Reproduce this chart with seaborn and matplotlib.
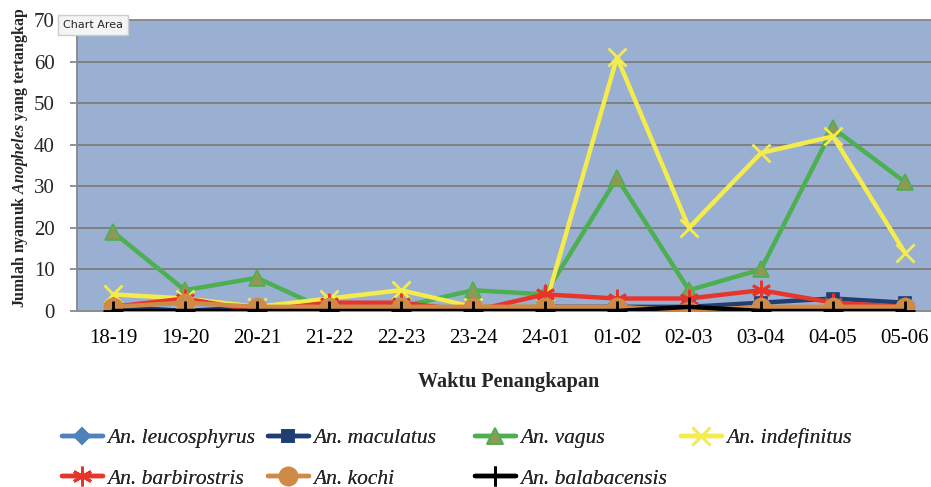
import pandas as pd
import matplotlib.pyplot as plt
import seaborn as sns
from matplotlib.lines import Line2D

# data
waktu = ['18-19', '19-20', '20-21', '21-22', '22-23', '23-24',
         '24-01', '01-02', '02-03', '03-04', '04-05', '05-06']
leucosphyrus = [1, 0, 0, 0, 0, 0, 0, 0, 0, 0, 0, 0]
maculatus = [1, 0, 1, 0, 0, 1, 1, 1, 1, 2, 3, 2]
vagus = [19, 5, 8, 0, 1, 5, 4, 32, 5, 10, 44, 31]
indefinitus = [4, 3, 1, 3, 5, 1, 1, 61, 20, 38, 42, 14]
barbirostris = [1, 3, 0, 2, 2, 0, 4, 3, 3, 5, 2, 1]
kochi = [1, 2, 1, 1, 1, 1, 1, 1, 0, 1, 1, 1]
balabacensis = [0, 0, 0, 0, 0, 0, 0, 0, 1, 0, 0, 0]

names = ['An. leucosphyrus', 'An. maculatus', 'An. vagus', 'An. indefinitus',
         'An. barbirostris', 'An. kochi', 'An. balabacensis']
series = [leucosphyrus, maculatus, vagus, indefinitus, barbirostris, kochi, balabacensis]

# line colour, marker, marker face, marker size
styles = [
    ('#4F81BD', 'D', '#4F81BD', 8),
    ('#1F3F73', 's', '#1F3F73', 9),
    ('#4CAF50', '^', '#8C9A55', 11),
    ('#F4EC4C', 'x', '#F4EC4C', 13),
    ('#E8352B', (6, 2, 0), '#E8352B', 14),
    ('#CF8A48', 'o', '#CF8A48', 13),
    ('#000000', '+', '#000000', 15),
]

rows = []
for name, vals in zip(names, series):
    for w, v in zip(waktu, vals):
        rows.append({'waktu': w, 'jumlah': v, 'spesies': name})
df = pd.DataFrame(rows)

sns.set_style('white')
plt.rcParams['font.family'] = ['Liberation Serif', 'DejaVu Serif']
plt.rcParams['mathtext.fontset'] = 'custom'
plt.rcParams['mathtext.bfit'] = 'Liberation Serif:italic:bold'

fig = plt.figure(figsize=(9.31, 4.87), dpi=100)
ax = fig.add_axes([0.0827, 0.3614, 0.928, 0.5976])
ax.set_facecolor('#9AB0D2')


def edge_w(mk):
    return 2 if mk in ('x', '+') or isinstance(mk, tuple) else 1.2


handles = []
for i, name in enumerate(names):
    col, mk, face, ms = styles[i]
    sub = df[df['spesies'] == name]
    sns.lineplot(data=sub, x='waktu', y='jumlah', ax=ax, color=col, linewidth=3.2,
                 marker=mk, markersize=ms, markerfacecolor=face, markeredgecolor=col,
                 markeredgewidth=edge_w(mk), sort=False, zorder=3 + i)
    handles.append(Line2D([], [], color=col, linewidth=3.2, marker=mk, markersize=ms,
                          markerfacecolor=face, markeredgecolor=col,
                          markeredgewidth=edge_w(mk)))

ax.set_xlim(-0.5, len(waktu) - 0.5)
ax.set_ylim(0, 70)
ax.set_yticks(range(0, 71, 10))
ax.yaxis.grid(True, color='#7F7F7F', linewidth=1.4)
ax.set_axisbelow(True)
ax.set_xticks(range(len(waktu)))
ax.set_xticklabels(waktu)
ax.set_xticks([x - 0.5 for x in range(len(waktu) + 1)], minor=True)
ax.tick_params(axis='x', which='major', length=0, labelsize=15, pad=13, colors='black')
ax.tick_params(axis='x', which='minor', length=5, width=1, color='#A0A0A0', direction='out')
ax.tick_params(axis='y', length=5, width=1.2, color='#808080', labelsize=15, pad=11,
               left=True)
for side in ['left', 'top', 'bottom']:
    ax.spines[side].set_color('#8C8C8C')
    ax.spines[side].set_linewidth(1.4)
ax.spines['right'].set_visible(False)

ax.set_xlabel('Waktu Penangkapan', fontsize=14.5, fontweight='bold', labelpad=17)
ax.set_ylabel(r'Jumlah nyamuk $\mathbfit{Anopheles}$ yang tertangkap', fontsize=11.4,
              fontweight='bold')
ax.yaxis.set_label_coords(-0.054, 0.526)

# legend: four fixed-width columns like the spreadsheet legend
col_x = [62, 268, 475, 681]
for c in range(4):
    idx = [c, c + 4] if c + 4 < len(names) else [c]
    leg = fig.legend(handles=[handles[j] for j in idx], labels=[names[j] for j in idx],
                     loc='upper left', bbox_to_anchor=(col_x[c] / 931, 1 - 428 / 487),
                     frameon=False, prop={'style': 'italic', 'size': 15.5},
                     handlelength=1.9, handletextpad=0.2, borderaxespad=0,
                     borderpad=0, labelspacing=0.95)
    fig.add_artist(leg)

# tooltip visible in the reference screenshot
fig.text(0.068, 0.949, 'Chart Area', fontsize=8, family='DejaVu Sans', va='center',
         bbox=dict(boxstyle='square,pad=0.45', facecolor='#F4F4F4', edgecolor='#CCCCCC'))

fig.savefig('out.png', dpi=100)
